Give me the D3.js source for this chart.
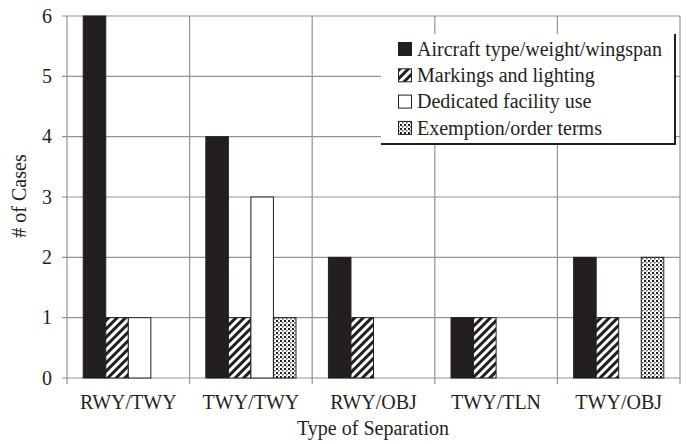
<!DOCTYPE html>
<html><head><meta charset="utf-8">
<script src="https://cdn.jsdelivr.net/npm/d3@7"></script>
<style>body{margin:0;background:#fff}svg{display:block}</style>
</head><body><svg id="c" width="686" height="444"></svg>
<script>
const categories = ["RWY/TWY","TWY/TWY","RWY/OBJ","TWY/TLN","TWY/OBJ"];
const seriesNames = ["Aircraft type/weight/wingspan","Markings and lighting","Dedicated facility use","Exemption/order terms"];
const aircraft = [6,4,2,1,2];
const markings = [1,1,1,1,1];
const dedicated = [1,3,0,0,0];
const exemption = [0,1,0,0,2];
const yTicks = [0,1,2,3,4,5,6];

const series = [aircraft, markings, dedicated, exemption];
const fills = ["#231f20","url(#hatch)","#ffffff","url(#dots)"];
const FONT = "Liberation Serif";

const svg = d3.select("#c");
const m = {left:67, right:680, top:16, bottom:378};
const x = d3.scaleBand().domain(categories).range([m.left,m.right]).paddingInner(0).paddingOuter(0);
const x1 = d3.scaleBand().domain(d3.range(4)).range([0,x.bandwidth()]).paddingInner(0).paddingOuter(0.72);
const y = d3.scaleLinear().domain([0,6]).range([m.bottom,m.top]);

const defs = svg.append("defs");
const h = defs.append("pattern").attr("id","hatch").attr("patternUnits","userSpaceOnUse")
  .attr("width",6).attr("height",6).attr("patternTransform","rotate(45)");
h.append("rect").attr("width",6).attr("height",6).attr("fill","#fff");
h.append("rect").attr("width",3).attr("height",6).attr("fill","#231f20");
const d = defs.append("pattern").attr("id","dots").attr("patternUnits","userSpaceOnUse")
  .attr("width",4).attr("height",4);
d.append("rect").attr("width",4).attr("height",4).attr("fill","#fff");
d.append("rect").attr("x",0).attr("y",0).attr("width",2).attr("height",2).attr("fill","#231f20");
d.append("rect").attr("x",2).attr("y",2).attr("width",1.5).attr("height",1.5).attr("fill","#555");

svg.append("g").selectAll("line").data(yTicks).join("line")
  .attr("x1",m.left-5).attr("x2",m.right).attr("y1",d=>y(d)).attr("y2",d=>y(d))
  .attr("stroke","#8e949b").attr("stroke-width",1.2);
const bounds = categories.map(c=>x(c)).concat([x(categories[categories.length-1])+x.bandwidth()]);
svg.append("g").selectAll("line").data(bounds).join("line")
  .attr("x1",d=>d).attr("x2",d=>d).attr("y1",m.top).attr("y2",m.bottom+6)
  .attr("stroke","#8e949b").attr("stroke-width",1.2);

categories.forEach((c,ci)=>{
  series.forEach((s,si)=>{
    if(s[ci]<=0) return;
    svg.append("rect").attr("x",x(c)+x1(si)).attr("width",x1.bandwidth())
      .attr("y",y(s[ci])).attr("height",y(0)-y(s[ci]))
      .attr("fill",fills[si]).attr("stroke","#231f20").attr("stroke-width",1);
  });
});

const T = sel => sel.attr("font-family",FONT).attr("fill","#231f20");
svg.append("g").selectAll("text").data(yTicks).join("text").call(T)
  .attr("x",52).attr("y",d=>y(d)).attr("dy","0.33em").attr("text-anchor","end")
  .attr("font-size",20).text(d=>d);
svg.append("g").selectAll("text").data(categories).join("text").call(T)
  .attr("x",d=>x(d)+x.bandwidth()/2).attr("y",409).attr("text-anchor","middle")
  .attr("font-size",20).text(d=>d);
svg.append("text").call(T).attr("x",373).attr("y",435).attr("text-anchor","middle").attr("font-size",20).text("Type of Separation");
svg.append("text").call(T).attr("transform","translate(26,196) rotate(-90)").attr("text-anchor","middle").attr("font-size",20).text("# of Cases");

const lg = svg.append("g");
lg.append("rect").attr("x",381).attr("y",34).attr("width",294).attr("height",110).attr("fill","#fff");
lg.append("line").attr("x1",675).attr("x2",675).attr("y1",34).attr("y2",145).attr("stroke","#231f20").attr("stroke-width",2);
lg.append("line").attr("x1",381).attr("x2",676).attr("y1",144).attr("y2",144).attr("stroke","#231f20").attr("stroke-width",2);
seriesNames.forEach((n,i)=>{
  const cy = 49 + i*26.3;
  lg.append("rect").attr("x",398.5).attr("y",cy-6.5).attr("width",13).attr("height",13)
    .attr("fill",fills[i]).attr("stroke","#231f20").attr("stroke-width",1);
  lg.append("text").call(T).attr("x",417).attr("y",cy).attr("dy","0.33em").attr("font-size",20).text(n);
});
</script></body></html>
